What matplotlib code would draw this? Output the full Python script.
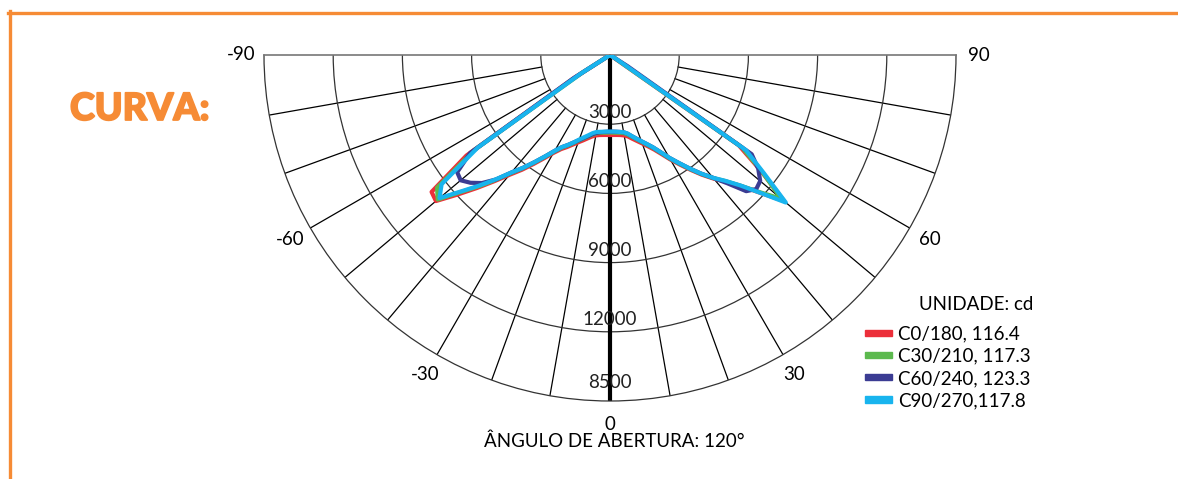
import numpy as np
import matplotlib.pyplot as plt
import matplotlib.patheffects as pe
from matplotlib.patches import Rectangle
from matplotlib.lines import Line2D

plt.rcParams['font.family'] = ['Lato', 'DejaVu Sans']

# angles (deg, 0 = nadir) and intensities (cd)
angles = [-90, -65, -62.5, -60, -57.5, -55, -52.5, -50, -47.5, -45, -42.5, -40, -37.5, -35,
          -32.5, -30, -27.5, -25, -22.5, -20, -17.5, -15, -12.5, -10, -7.5, -5, -2.5, 0,
          2.5, 5, 7.5, 10, 12.5, 15, 17.5, 20, 22.5, 25, 27.5, 30, 32.5, 35, 37.5, 40,
          42.5, 45, 47.5, 50, 52.5, 55, 57.5, 60, 62.5, 65, 90]

c0_180 = [0, 0, 0, 0, 1800, 7600, 9750, 9850, 8950, 8150, 7420, 6780, 6270, 5760,
          5300, 4900, 4600, 4400, 4200, 4030, 3880, 3740, 3620, 3540, 3500, 3480, 3470, 3470,
          3470, 3480, 3500, 3540, 3620, 3760, 3910, 4080, 4280, 4520, 4840, 5230, 5630, 6070, 6540, 7000,
          7440, 8030, 8850, 9850, 8250, 6800, 0, 0, 0, 0, 0]
c30_210 = [0, 0, 0, 0, 1400, 7200, 9450, 9750, 8800, 8050, 7340, 6690, 6180, 5680,
           5230, 4830, 4530, 4330, 4130, 3950, 3790, 3660, 3540, 3450, 3400, 3380, 3370, 3360,
           3370, 3380, 3400, 3440, 3530, 3670, 3830, 4010, 4210, 4450, 4780, 5180, 5580, 6030, 6500, 6960,
           7420, 8020, 8800, 9700, 8300, 7000, 150, 0, 0, 0, 0]
c60_240 = [0, 0, 0, 0, 1900, 7400, 8350, 8450, 8200, 7850, 7320, 6650, 6150, 5650,
           5200, 4800, 4500, 4300, 4100, 3930, 3770, 3640, 3520, 3430, 3380, 3350, 3330, 3320,
           3325, 3340, 3365, 3400, 3490, 3640, 3800, 3980, 4180, 4420, 4750, 5150, 5550, 6000, 6480, 6950,
           7550, 8350, 8600, 8500, 8100, 7500, 900, 0, 0, 0, 0]
c90_270 = [0, 0, 0, 0, 1500, 7000, 9200, 9650, 8750, 8000, 7300, 6650, 6150, 5650,
           5200, 4800, 4500, 4300, 4100, 3900, 3740, 3600, 3470, 3390, 3360, 3340, 3325, 3320,
           3325, 3340, 3365, 3400, 3490, 3640, 3800, 3980, 4180, 4420, 4750, 5150, 5550, 6000, 6480, 6950,
           7400, 8000, 8850, 9950, 8400, 7200, 300, 0, 0, 0, 0]

series = [c0_180, c30_210, c60_240, c90_270]
labels = ['C0/180, 116.4', 'C30/210, 117.3', 'C60/240, 123.3', 'C90/270,117.8']
colors = ['#ec2f3a', '#5cb94e', '#3b3c93', '#18b4ee']

ring_vals = [3000, 6000, 9000, 12000, 15000]
ring_labels = ['3000', '6000', '9000', '12000', '8500']
theta_ticks = [-90, -60, -30, 0, 30, 60, 90]
RMAX = 15000
orange = '#f68b35'

W, H = 1178, 479
fig = plt.figure(figsize=(W / 100, H / 100), dpi=100)

# orange frame lines
fig.add_artist(Line2D([8 / W, 1], [1 - 12.5 / H] * 2, color=orange, lw=2.4))
fig.add_artist(Line2D([10 / W] * 2, [0, 1 - 11 / H], color=orange, lw=2.4))

fig.text(70 / W, 1 - 109 / H, 'CURVA:', color=orange, fontsize=27, fontweight='black',
         ha='left', va='center', path_effects=[pe.withStroke(linewidth=1.3, foreground=orange)])

# polar axes: half disc centred at (610, 55), radius 346 px
cx, cy, R = 610, 55, 346
ax = fig.add_axes([(cx - R) / W, 1 - (cy + R / 2 + R) / H, 2 * R / W, 2 * R / H], projection='polar')
ax.set_theta_zero_location('S')
ax.set_thetamin(-90)
ax.set_thetamax(90)
ax.set_rlim(0, RMAX)
ax.set_xticks([])
ax.set_yticks(ring_vals[:-1])
ax.set_yticklabels([])
ax.yaxis.grid(True, color='#333333', lw=0.9)
ax.spines['polar'].set_color('#333333')
ax.spines['polar'].set_linewidth(0.9)
for s in ('start', 'end'):
    ax.spines[s].set_color('#777777')
    ax.spines[s].set_linewidth(1.2)
ax.spines['inner'].set_visible(False)

# spokes every 10 deg from the first ring outwards
for a in range(-80, 90, 10):
    if a == 0:
        continue
    ax.plot([np.radians(a)] * 2, [ring_vals[0], RMAX], color='black', lw=0.9, zorder=1)
ax.plot([0, 0], [0, RMAX], color='black', lw=3, zorder=2)

th = np.radians(angles)
for vals, col in zip(series, colors):
    ax.plot(th, vals, color=col, lw=3.0, zorder=3, solid_joinstyle='round')

# radial labels
for i, (r, t) in enumerate(zip(ring_vals, ring_labels)):
    off = 820 if i == len(ring_vals) - 1 else 520
    ax.text(0, r - off, t, ha='center', va='center', fontsize=13.5, color='#222222', zorder=4)

# angle labels
for a in theta_ticks:
    ax.text(np.radians(a), 16000, str(a), ha='center', va='center', fontsize=13.5)

fig.text(614 / W, 1 - 441 / H, 'ÂNGULO DE ABERTURA: 120°', ha='center', va='center', fontsize=13.5)

# legend
fig.text(1033 / W, 1 - 305 / H, 'UNIDADE: cd', ha='right', va='center', fontsize=13.5)
for i, (lab, col) in enumerate(zip(labels, colors)):
    y = 333 + i * 22.2
    fig.add_artist(Rectangle((865 / W, 1 - (y + 3) / H), 27 / W, 6.5 / H,
                             color=col, transform=fig.transFigure))
    fig.text(898 / W, 1 - (y + 1) / H, lab, ha='left', va='center', fontsize=13.5)

fig.savefig('out.png', dpi=100)
